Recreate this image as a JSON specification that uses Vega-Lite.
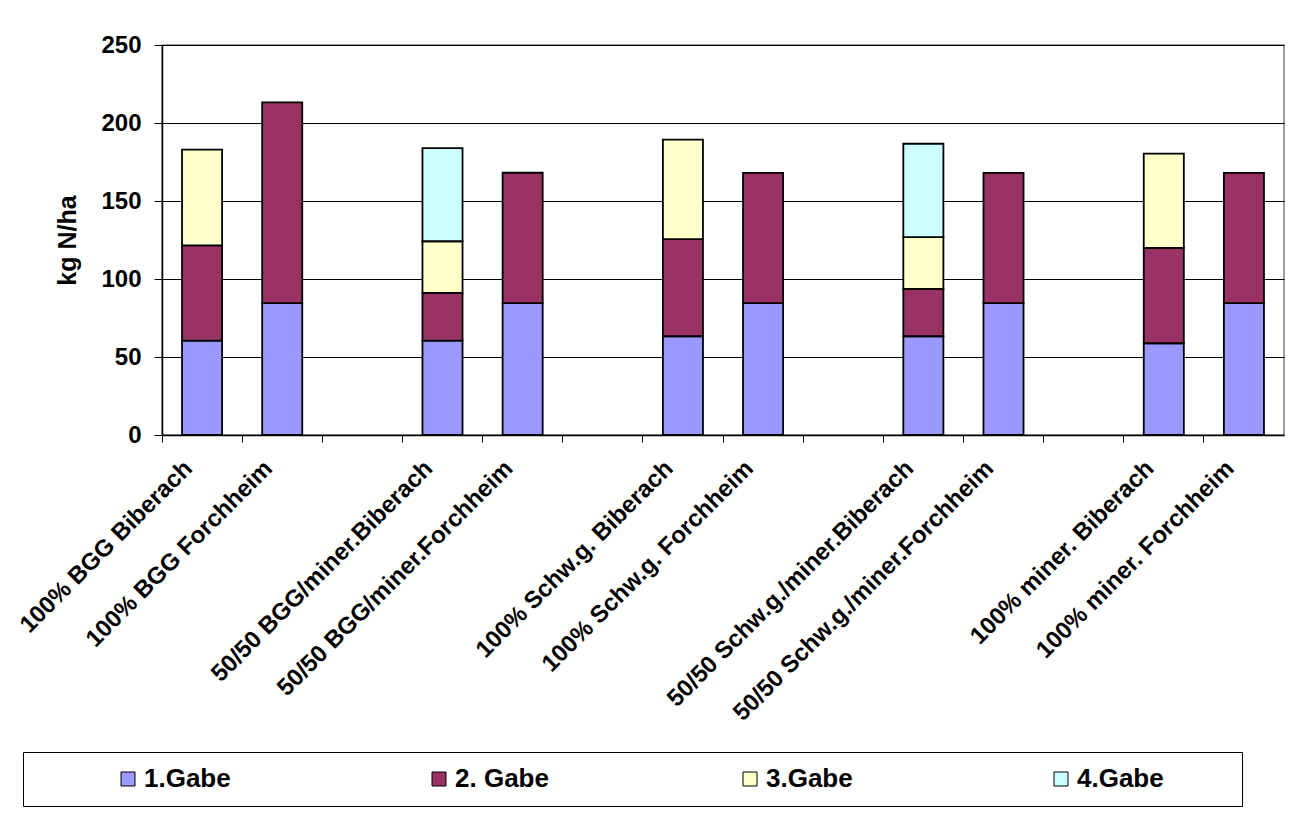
{
  "$schema": "https://vega.github.io/schema/vega-lite/v6.json",
  "autosize": {"type": "none"},
  "width": 1122,
  "height": 390,
  "padding": {"left": 162, "top": 45, "right": 18, "bottom": 379},
  "background": "white",
  "config": {
    "font": "Liberation Sans",
    "view": {"stroke": "#808080", "strokeWidth": 1.5}
  },
  "data": {
    "values": [
      {"cat": "100% BGG Biberach", "Gabe": "1.Gabe", "value": 60.5},
      {"cat": "100% BGG Biberach", "Gabe": "2. Gabe", "value": 61},
      {"cat": "100% BGG Biberach", "Gabe": "3.Gabe", "value": 61.4},
      {"cat": "100% BGG Forchheim", "Gabe": "1.Gabe", "value": 84.5},
      {"cat": "100% BGG Forchheim", "Gabe": "2. Gabe", "value": 128.7},
      {"cat": "50/50 BGG/miner.Biberach", "Gabe": "1.Gabe", "value": 60.5},
      {"cat": "50/50 BGG/miner.Biberach", "Gabe": "2. Gabe", "value": 30.6},
      {"cat": "50/50 BGG/miner.Biberach", "Gabe": "3.Gabe", "value": 33.1},
      {"cat": "50/50 BGG/miner.Biberach", "Gabe": "4.Gabe", "value": 59.7},
      {"cat": "50/50 BGG/miner.Forchheim", "Gabe": "1.Gabe", "value": 84.5},
      {"cat": "50/50 BGG/miner.Forchheim", "Gabe": "2. Gabe", "value": 83.6},
      {"cat": "100% Schw.g. Biberach", "Gabe": "1.Gabe", "value": 63.3},
      {"cat": "100% Schw.g. Biberach", "Gabe": "2. Gabe", "value": 62.2},
      {"cat": "100% Schw.g. Biberach", "Gabe": "3.Gabe", "value": 63.8},
      {"cat": "100% Schw.g. Forchheim", "Gabe": "1.Gabe", "value": 84.5},
      {"cat": "100% Schw.g. Forchheim", "Gabe": "2. Gabe", "value": 83.5},
      {"cat": "50/50 Schw.g./miner.Biberach", "Gabe": "1.Gabe", "value": 63.3},
      {"cat": "50/50 Schw.g./miner.Biberach", "Gabe": "2. Gabe", "value": 30.4},
      {"cat": "50/50 Schw.g./miner.Biberach", "Gabe": "3.Gabe", "value": 33.1},
      {"cat": "50/50 Schw.g./miner.Biberach", "Gabe": "4.Gabe", "value": 59.9},
      {"cat": "50/50 Schw.g./miner.Forchheim", "Gabe": "1.Gabe", "value": 84.5},
      {"cat": "50/50 Schw.g./miner.Forchheim", "Gabe": "2. Gabe", "value": 83.5},
      {"cat": "100% miner. Biberach", "Gabe": "1.Gabe", "value": 58.8},
      {"cat": "100% miner. Biberach", "Gabe": "2. Gabe", "value": 61.2},
      {"cat": "100% miner. Biberach", "Gabe": "3.Gabe", "value": 60.4},
      {"cat": "100% miner. Forchheim", "Gabe": "1.Gabe", "value": 84.5},
      {"cat": "100% miner. Forchheim", "Gabe": "2. Gabe", "value": 83.5}
    ]
  },
  "mark": {"type": "bar", "stroke": "black", "strokeWidth": 1.8},
  "encoding": {
    "x": {
      "field": "cat",
      "type": "nominal",
      "scale": {
        "domain": [
          "100% BGG Biberach", "100% BGG Forchheim", "gap1",
          "50/50 BGG/miner.Biberach", "50/50 BGG/miner.Forchheim", "gap2",
          "100% Schw.g. Biberach", "100% Schw.g. Forchheim", "gap3",
          "50/50 Schw.g./miner.Biberach", "50/50 Schw.g./miner.Forchheim", "gap4",
          "100% miner. Biberach", "100% miner. Forchheim"
        ],
        "paddingInner": 0.5,
        "paddingOuter": 0.25
      },
      "axis": {
        "title": null,
        "labelExpr": "indexof(datum.value, 'gap') === 0 ? '' : datum.value",
        "labelAngle": -45,
        "labelAlign": "right",
        "labelBaseline": "top",
        "labelFont": "Liberation Sans",
        "labelFontWeight": "bold",
        "labelFontSize": 24,
        "labelColor": "black",
        "labelLimit": 400,
        "labelOverlap": false,
        "labelPadding": 14,
        "labelOffset": -22,
        "bandPosition": -0.5,
        "tickSize": 7,
        "tickColor": "black",
        "domainColor": "black",
        "domainWidth": 1.5,
        "grid": false
      }
    },
    "y": {
      "field": "value",
      "type": "quantitative",
      "stack": "zero",
      "scale": {"domain": [0, 250], "nice": false},
      "axis": {
        "title": "kg N/ha",
        "titleFont": "Liberation Sans",
        "titleFontWeight": "bold",
        "titleFontSize": 25,
        "titleColor": "black",
        "titlePadding": 20,
        "values": [0, 50, 100, 150, 200, 250],
        "labelFont": "Liberation Sans",
        "labelFontWeight": "bold",
        "labelFontSize": 24,
        "labelColor": "black",
        "labelPadding": 13,
        "tickSize": 8,
        "tickColor": "black",
        "domainColor": "black",
        "domainWidth": 1.5,
        "grid": true,
        "gridColor": "black",
        "gridWidth": 1.2
      }
    },
    "color": {
      "field": "Gabe",
      "type": "nominal",
      "scale": {
        "domain": ["1.Gabe", "2. Gabe", "3.Gabe", "4.Gabe"],
        "range": ["#9999FF", "#993366", "#FFFFCC", "#CCFFFF"]
      },
      "legend": {
        "title": "\u00a0",
        "titleOrient": "right",
        "titlePadding": 64,
        "titleFontSize": 10,
        "orient": "none",
        "legendX": -139,
        "legendY": 707,
        "direction": "horizontal",
        "columns": 4,
        "gridAlign": "all",
        "padding": 14,
        "strokeColor": "black",
        "fillColor": "white",
        "symbolType": "square",
        "symbolSize": 196,
        "symbolStrokeColor": "black",
        "symbolStrokeWidth": 1,
        "symbolOffset": 78,
        "labelOffset": 3,
        "labelFont": "Liberation Sans",
        "labelFontWeight": "bold",
        "labelFontSize": 26,
        "labelColor": "black",
        "columnPadding": 110
      }
    },
    "order": {"field": "Gabe", "type": "nominal", "sort": "ascending"}
  }
}
